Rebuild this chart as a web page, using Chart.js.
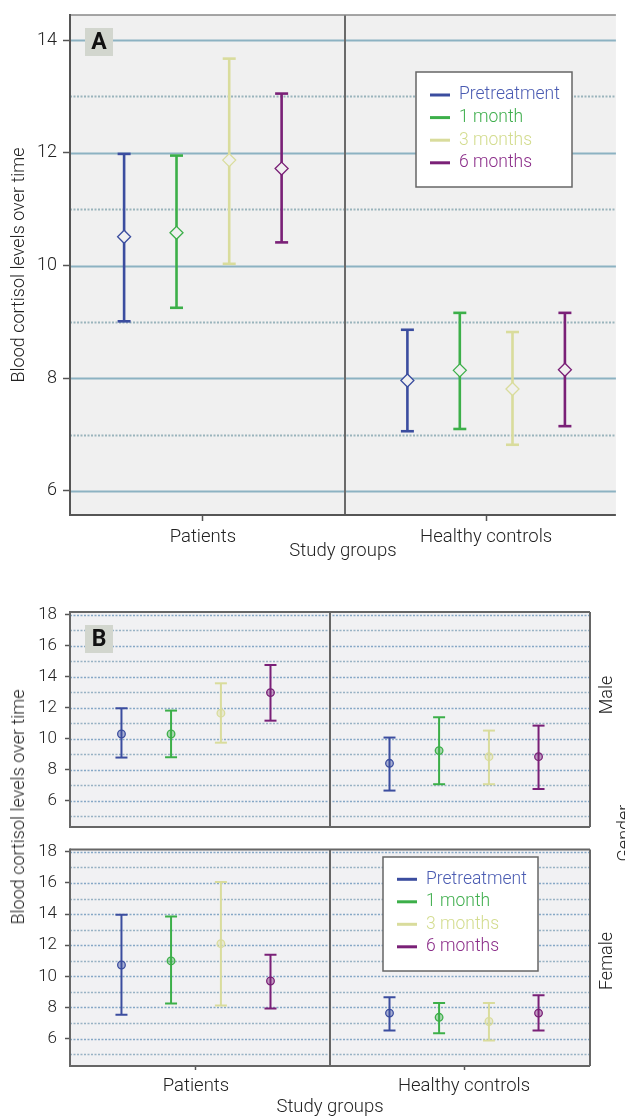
<!DOCTYPE html>
<html>
<head>
<meta charset="utf-8">
<script src="https://cdn.jsdelivr.net/npm/chart.js@4/dist/chart.umd.min.js"></script>
<style>
html, body { margin: 0; padding: 0; background: #fff; }
#wrap { position: relative; width: 625px; height: 1120px; overflow: hidden; background: #fff; }
canvas { position: absolute; left: 0; }
.rt { position: absolute; font-family: Roboto, sans-serif; font-weight: 300; color: #222; white-space: nowrap;
      transform: translate(-50%, -50%) rotate(-90deg); line-height: 1; }
</style>
</head>
<body>
<div id="wrap">
  <canvas id="cA" width="625" height="565" style="top:0;width:625px;height:565px"></canvas>
  <canvas id="cM" width="625" height="250" style="top:590px;width:625px;height:250px"></canvas>
  <canvas id="cF" width="625" height="285" style="top:840px;width:625px;height:285px"></canvas>
  <div class="rt" style="left:18px;top:807px;font-size:18px">Blood cortisol levels over time</div>
  <div class="rt" style="left:606px;top:695px;font-size:18px">Male</div>
  <div class="rt" style="left:606px;top:961px;font-size:18px">Female</div>
  <div class="rt" style="left:624px;top:833px;font-size:18px">Gender</div>
</div>
<script>
// ---------------- DATA ----------------
const categories = ['Patients', 'Healthy controls'];
const seriesNames = ['Pretreatment', '1 month', '3 months', '6 months'];
const yTicksA = [6, 8, 10, 12, 14];
const yTicksB = [6, 8, 10, 12, 14, 16, 18];

// Panel A (rows = series, columns = categories)
const aMean = [[10.51, 7.96], [10.58, 8.14], [11.87, 7.81], [11.72, 8.15]];
const aLow  = [[9.01, 7.06], [9.25, 7.10], [10.03, 6.82], [10.41, 7.15]];
const aHigh = [[11.98, 8.86], [11.95, 9.16], [13.67, 8.82], [13.05, 9.16]];

// Panel B – Male
const mMean = [[10.32, 8.43], [10.32, 9.25], [11.66, 8.86], [12.99, 8.86]];
const mLow  = [[8.80, 6.67], [8.82, 7.08], [9.76, 7.08], [11.18, 6.77]];
const mHigh = [[11.98, 10.09], [11.83, 11.40], [13.59, 10.54], [14.77, 10.86]];

// Panel B – Female
const fMean = [[10.73, 7.64], [10.99, 7.37], [12.10, 7.10], [9.70, 7.64]];
const fLow  = [[7.54, 6.52], [8.25, 6.35], [8.12, 5.88], [7.93, 6.52]];
const fHigh = [[13.95, 8.66], [13.84, 8.29], [16.06, 8.29], [11.38, 8.79]];

// ---------------- STYLE ----------------
const COLORS = ['#3b4d9f', '#3caf49', '#d9dc9c', '#7a2077'];
const LEGEND_TEXT = ['#4a5bb2', '#3fae4d', '#d3dc8e', '#8b2d89'];
const OFFSETS = [-0.278, -0.093, 0.093, 0.278];
const FONT = 'Roboto, sans-serif';

function buildDatasets(mean, low, high, m) {
  const ds = [];
  seriesNames.forEach((name, s) => {
    const pts = [];
    categories.forEach((c, i) => {
      const x = i + 0.5 + OFFSETS[s];
      pts.push({x: x, y: low[s][i]}, {x: x, y: high[s][i]}, {x: x, y: null});
    });
    ds.push({
      label: name, data: pts, showLine: true, spanGaps: false, order: 1,
      borderColor: COLORS[s], borderWidth: m.barWidth,
      pointStyle: 'line', pointRadius: m.capRadius, pointBorderWidth: m.barWidth,
      pointBorderColor: COLORS[s], pointHoverRadius: m.capRadius
    });
    ds.push({
      label: name + ' mean', order: 0, showLine: false,
      data: categories.map((c, i) => ({x: i + 0.5 + OFFSETS[s], y: mean[s][i]})),
      pointStyle: m.style, pointRadius: m.radius, pointHoverRadius: m.radius,
      pointBorderWidth: m.markerBorder, pointBorderColor: COLORS[s],
      pointBackgroundColor: m.fill(s)
    });
  });
  return ds;
}

function seg(ctx, x1, y1, x2, y2) { ctx.beginPath(); ctx.moveTo(x1, y1); ctx.lineTo(x2, y2); ctx.stroke(); }

const framePlugin = {
  id: 'frame',
  beforeDraw(chart, args, o) {
    const {ctx, chartArea: ca} = chart;
    ctx.save();
    ctx.fillStyle = o.bg;
    ctx.fillRect(ca.left, ca.top, ca.right - ca.left, ca.bottom - ca.top);
    ctx.restore();
  },
  beforeDatasetsDraw(chart, args, o) {
    const {ctx, chartArea: ca, scales: {x, y}} = chart;
    ctx.save();
    for (let v = Math.ceil(y.min); v <= Math.floor(y.max); v++) {
      const py = Math.round(y.getPixelForValue(v)) + 0.5;
      const major = v % 2 === 0;
      ctx.strokeStyle = major ? o.majorColor : o.minorColor;
      ctx.lineWidth = major ? o.majorWidth : o.minorWidth;
      ctx.setLineDash(major ? o.majorDash : o.minorDash);
      seg(ctx, ca.left, py, ca.right, py);
    }
    ctx.setLineDash([]);
    const dx = Math.round(x.getPixelForValue(1));
    ctx.strokeStyle = o.dividerColor; ctx.lineWidth = 2;
    seg(ctx, dx, ca.top, dx, ca.bottom);
    ctx.strokeStyle = o.topColor; ctx.lineWidth = o.topWidth;
    seg(ctx, ca.left, ca.top, ca.right, ca.top);
    if (o.rightBorder) {
      ctx.strokeStyle = o.borderColor; ctx.lineWidth = 2;
      seg(ctx, ca.right, ca.top, ca.right, ca.bottom);
    }
    ctx.strokeStyle = o.borderColor; ctx.lineWidth = 2;
    seg(ctx, ca.left, ca.top - 1, ca.left, ca.bottom + 1);
    seg(ctx, ca.left - 1, ca.bottom, ca.right, ca.bottom);
    ctx.restore();
  },
  afterDatasetsDraw(chart, args, o) {
    const {ctx} = chart;
    ctx.save();
    if (o.letter) {
      const L = o.letter;
      ctx.fillStyle = '#d2d6ce';
      ctx.fillRect(L.x, L.y, L.s, L.s);
      ctx.fillStyle = '#111';
      ctx.font = 'bold 23px ' + FONT;
      ctx.textAlign = 'center'; ctx.textBaseline = 'middle';
      ctx.fillText(L.text, L.x + L.s / 2, L.y + L.s / 2 + 1);
    }
    if (o.legend) {
      const g = o.legend;
      ctx.fillStyle = '#fff';
      ctx.fillRect(g.x, g.y, g.w, g.h);
      ctx.strokeStyle = '#666'; ctx.lineWidth = 1.5;
      ctx.strokeRect(g.x, g.y, g.w, g.h);
      ctx.font = '300 17.5px ' + FONT;
      ctx.textAlign = 'left'; ctx.textBaseline = 'middle';
      seriesNames.forEach((n, i) => {
        const yy = g.row0 + i * g.gap;
        ctx.strokeStyle = COLORS[i]; ctx.lineWidth = 3;
        seg(ctx, g.lx1, yy, g.lx2, yy);
        ctx.fillStyle = LEGEND_TEXT[i];
        ctx.fillText(n, g.tx, yy);
      });
    }
    ctx.restore();
  }
};

function noPad(s) { s.paddingTop = 0; s.paddingBottom = 0; s.paddingLeft = 0; s.paddingRight = 0; }

function makeChart(id, c) {
  return new Chart(document.getElementById(id), {
    type: 'scatter',
    data: {datasets: buildDatasets(c.mean, c.low, c.high, c.marker)},
    options: {
      responsive: false, animation: false, devicePixelRatio: 1,
      events: [],
      layout: {padding: c.padding},
      plugins: {legend: {display: false}, tooltip: {enabled: false}, frame: c.frame},
      scales: {
        x: {
          type: 'linear', min: c.xMin, max: c.xMax, display: c.showX,
          afterBuildTicks: s => { s.ticks = categories.map((cat, i) => ({value: i + 0.5})); },
          afterFit: s => { s.height = c.xHeight; noPad(s); },
          ticks: {autoSkip: false, maxRotation: 0, padding: c.xPad, color: '#222',
                  font: {family: FONT, size: 18.5, weight: '300'}, callback: v => categories[Math.floor(v)]},
          grid: {drawOnChartArea: false, color: '#555', tickLength: c.xTick, tickWidth: 1.5},
          border: {display: false},
          title: {display: c.showX, text: 'Study groups', color: '#222',
                  font: {family: FONT, size: 18.5, weight: '300'}, padding: {top: 0, bottom: c.xTitlePad}}
        },
        y: {
          type: 'linear', min: c.yMin, max: c.yMax,
          afterBuildTicks: s => { s.ticks = c.ticks.map(v => ({value: v})); },
          afterFit: s => { s.width = 70; noPad(s); },
          ticks: {padding: c.yPad, color: '#222', font: {family: FONT, size: c.yFont, weight: '300'}, callback: v => String(v)},
          grid: {drawOnChartArea: false, color: '#555', tickLength: c.yTick, tickWidth: 1.5},
          border: {display: false},
          title: {display: c.yTitle, text: 'Blood cortisol levels over time', color: '#222',
                  font: {family: FONT, size: 18, weight: '300'}, padding: {top: 9, bottom: 0}}
        }
      }
    },
    plugins: [framePlugin]
  });
}

const markerA = {style: 'rectRot', radius: 6.5, markerBorder: 1.3, barWidth: 2.6, capRadius: 6.5,
                 fill: () => '#f0f0f0'};
const markerB = {style: 'circle', radius: 3.8, markerBorder: 1.3, barWidth: 2, capRadius: 6,
                 fill: s => COLORS[s] + '66'};

const frameA = {
  bg: '#f0f0f0', majorColor: '#8cb2c2', minorColor: '#9ab4bc', majorWidth: 2, minorWidth: 2,
  majorDash: [], minorDash: [2, 1.5], dividerColor: '#6a6a6a', topColor: '#888', topWidth: 1.5,
  borderColor: '#555', rightBorder: false,
  letter: {x: 85, y: 28, s: 28, text: 'A'},
  legend: {x: 416, y: 72, w: 156, h: 115, row0: 95, gap: 22.6, lx1: 430, lx2: 450, tx: 459}
};
const frameBase = {
  bg: '#f1f1f3', majorColor: '#86a8c6', minorColor: '#98b2c4', majorWidth: 1.6, minorWidth: 1.6,
  majorDash: [2, 1.5], minorDash: [2, 1.5], dividerColor: '#666', topColor: '#666', topWidth: 2,
  borderColor: '#666', rightBorder: true
};

makeChart('cA', {
  mean: aMean, low: aLow, high: aHigh, marker: markerA,
  padding: {top: 15, right: 0, bottom: 0, left: 0},
  xMin: 0.031, xMax: 1.958, showX: true, xHeight: 50, xPad: 5, xTick: 6, xTitlePad: 3,
  yMin: 5.574, yMax: 14.444, ticks: yTicksA, yPad: 6, yTick: 7, yFont: 18, yTitle: true,
  frame: frameA
});

makeChart('cM', {
  mean: mMean, low: mLow, high: mHigh, marker: markerB,
  padding: {top: 22, right: 35, bottom: 13, left: 0},
  xMin: 0.03, xMax: 1.97, showX: false, xHeight: 0, xPad: 5, xTick: 4, xTitlePad: 0,
  yMin: 4.32, yMax: 18.19, ticks: yTicksB, yPad: 8, yTick: 5, yFont: 17, yTitle: false,
  frame: Object.assign({}, frameBase, {letter: {x: 85, y: 35, s: 28, text: 'B'}})
});

makeChart('cF', {
  mean: fMean, low: fLow, high: fHigh, marker: markerB,
  padding: {top: 9.5, right: 35, bottom: 0, left: 0},
  xMin: 0.03, xMax: 1.97, showX: true, xHeight: 59, xPad: 5, xTick: 4, xTitlePad: 7,
  yMin: 4.24, yMax: 18.15, ticks: yTicksB, yPad: 8, yTick: 5, yFont: 17, yTitle: false,
  frame: Object.assign({}, frameBase, {
    legend: {x: 383, y: 17, w: 155, h: 114, row0: 39.3, gap: 22.5, lx1: 397, lx2: 417, tx: 426}
  })
});
</script>
</body>
</html>
